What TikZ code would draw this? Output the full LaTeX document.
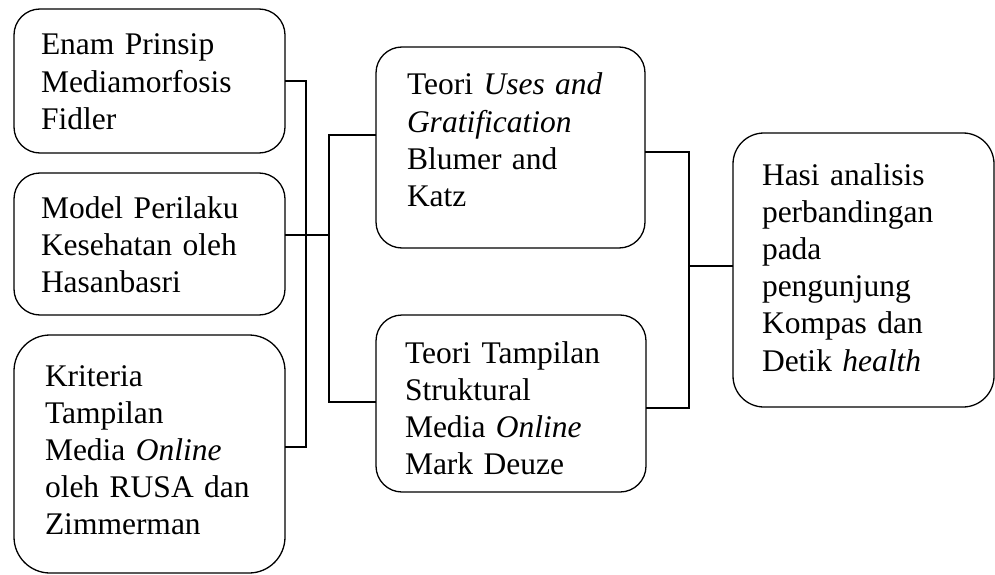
\documentclass[tikz,border=0pt]{standalone}
\usepackage{fontspec}
\setmainfont{Liberation Serif}
\begin{document}
\begin{tikzpicture}[x=1pt,y=-1pt,
  box/.style={draw=black, line width=1.3pt, outer sep=0pt, inner sep=0pt},
  conn/.style={draw=black, line width=1.1pt},
  txt/.style={anchor=base west, inner sep=0pt, outer sep=0pt, text width=250pt, align=left,
    font=\fontsize{31.5}{37.2}\selectfont}]
\useasboundingbox (0,0) rectangle (995,575);
% boxes
\node[box, rounded corners=26pt, minimum width=271pt, minimum height=144pt] (b1) at (149.5,81) {};
\node[box, rounded corners=26pt, minimum width=271pt, minimum height=142pt] (b2) at (149.5,244) {};
\node[box, rounded corners=36pt, minimum width=271pt, minimum height=238pt] (b3) at (149.5,454) {};
\node[box, rounded corners=26pt, minimum width=269pt, minimum height=201pt] (b4) at (510.5,147.5) {};
\node[box, rounded corners=26pt, minimum width=270pt, minimum height=177pt] (b5) at (511,403.5) {};
\node[box, rounded corners=31pt, minimum width=261pt, minimum height=274pt] (b6) at (863.5,270) {};
% texts
\node[txt] (t1) at (41,55) {Enam Prinsip\\Mediamorfosis\\Fidler};
\node[txt] (t2) at (41,218) {Model Perilaku\\Kesehatan oleh\\Hasanbasri};
\node[txt] (t3) at (45,386) {Kriteria\\Tampilan\\Media \textit{Online}\\oleh RUSA dan\\Zimmerman};
\node[txt] (t4) at (407,95) {Teori \textit{Uses and}\\\textit{Gratification}\\Blumer and\\Katz};
\node[txt] (t5) at (405,363) {Teori Tampilan\\Struktural\\Media \textit{Online}\\Mark Deuze};
\node[txt] (t6) at (762,185) {Hasi analisis\\perbandingan\\pada\\pengunjung\\Kompas dan\\Detik \textit{health}};
% junction columns
\coordinate (jL) at (306,0);
\coordinate (jM) at (329,0);
\coordinate (jR) at (689,0);
% connectors
\draw[conn] (b1.east |- 0,81) -| (jL |- 0,447) -- (b3.east |- 0,447);
\draw[conn] (b2.east |- 0,235) -- (jM |- 0,235);
\draw[conn] (b4.west |- 0,135) -| (jM |- 0,402) -- (b5.west |- 0,402);
\draw[conn] (b4.east |- 0,152) -| (jR |- 0,408) -- (b5.east |- 0,408);
\draw[conn] (jR |- 0,266) -- (b6.west |- 0,266);
\end{tikzpicture}
\end{document}
